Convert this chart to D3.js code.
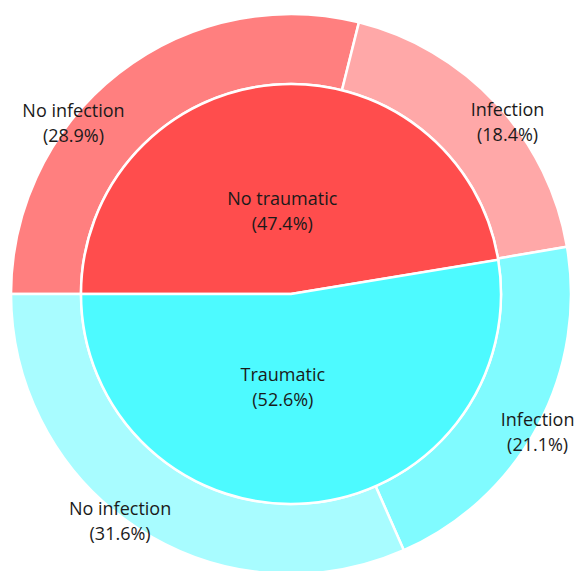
<!DOCTYPE html>
<html>
<head>
<meta charset="utf-8">
<script src="https://cdn.jsdelivr.net/npm/d3@7"></script>
<style>
  body { margin: 0; background: #fff; }
</style>
</head>
<body>
<svg id="chart" width="583" height="571"></svg>
<script>
// inner ring
var innerNames = ["No traumatic", "Traumatic"];
var innerValues = [47.4, 52.6];
var innerColors = ["#ff4d4d", "#4dfaff"];

// outer ring (children in same order as inner ring)
var outerNames = ["No infection", "Infection", "Infection", "No infection"];
var outerValues = [28.9, 18.4, 21.1, 31.6];
var outerColors = ["#ff7f7f", "#ffa8a8", "#80fbff", "#a8fcff"];

// label angle nudges (degrees), like the hand-moved labels in the original
var innerNudge = [-1, 10];
var outerNudge = [-13, 3.5, 0, 4.5];

var width = 583, height = 571;
var cx = 291, cy = 294;
var rOuter = 280, rInner = 210;

var svg = d3.select("#chart");
var g = svg.append("g").attr("transform", `translate(${cx},${cy})`);

var pie = d3.pie()
    .sort(null)
    .startAngle(-Math.PI / 2)
    .endAngle(Math.PI * 1.5)
    .value(d => d.value);

var innerData = innerNames.map((n, i) => ({ name: n, value: innerValues[i], color: innerColors[i], nudge: innerNudge[i] }));
var outerData = outerNames.map((n, i) => ({ name: n, value: outerValues[i], color: outerColors[i], nudge: outerNudge[i] }));

var innerArcs = pie(innerData);
var outerArcs = pie(outerData);

var arcIn = d3.arc().innerRadius(0).outerRadius(rInner);
var arcOut = d3.arc().innerRadius(rInner).outerRadius(rOuter);

g.append("g")
    .selectAll("path")
    .data(outerArcs)
    .join("path")
    .attr("fill", d => d.data.color)
    .attr("stroke", "#fff")
    .attr("stroke-width", 2.5)
    .attr("d", arcOut);

g.append("g")
    .selectAll("path")
    .data(innerArcs)
    .join("path")
    .attr("fill", d => d.data.color)
    .attr("stroke", "#fff")
    .attr("stroke-width", 2.5)
    .attr("d", arcIn);

var labelPos = function (d, r) {
    var a = (d.startAngle + d.endAngle) / 2 + d.data.nudge * Math.PI / 180;
    return [Math.sin(a) * r, -Math.cos(a) * r];
};

var addLabels = function (arcs, r) {
    var t = g.append("g")
        .attr("font-family", "'Open Sans', sans-serif")
        .attr("font-size", 18)
        .attr("fill", "#1a1a1a")
        .attr("text-anchor", "middle")
        .selectAll("text")
        .data(arcs)
        .join("text")
        .attr("transform", d => `translate(${labelPos(d, r)})`);
    t.append("tspan")
        .attr("x", 0)
        .attr("y", -1)
        .text(d => d.data.name);
    t.append("tspan")
        .attr("x", 0)
        .attr("y", 24)
        .text(d => `(${d.data.value.toFixed(1)}%)`);
};

addLabels(innerArcs, 88);
addLabels(outerArcs, 280);
</script>
</body>
</html>
